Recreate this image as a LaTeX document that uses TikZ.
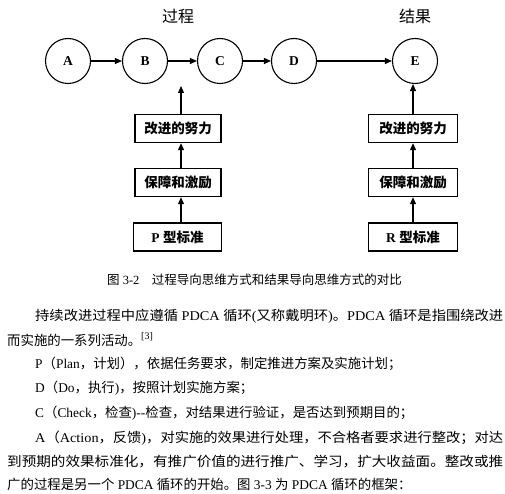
\documentclass[tikz,border=0pt]{standalone}
\usepackage{fontspec}
\usepackage{graphicx}
\setmainfont{Liberation Serif}
\newfontfamily\cjk{Noto Sans CJK SC}
\usetikzlibrary{arrows.meta}
\newcommand\zh[1]{{\cjk #1}}
\newcommand\fitline[2]{\resizebox{#1pt}{\height}{#2}}
\begin{document}
\begin{tikzpicture}[x=1pt,y=-1pt,
  circ/.style={draw,circle,minimum size=45pt,inner sep=0pt,line width=1.1pt,font=\bfseries\fontsize{13.5}{13.5}\selectfont},
  box/.style={draw,rectangle,minimum height=28pt,inner sep=0pt,line width=1.4pt,font=\bfseries\fontsize{13.5}{13.5}\selectfont},
  arr/.style={-{Triangle[length=7pt,width=6pt]},line width=1.1pt},
  head/.style={inner sep=0pt,font=\cjk\fontsize{16}{16}\selectfont},
  body/.style={anchor=base west,inner sep=0pt,font=\fontsize{13.4}{13.4}\selectfont},
]
\useasboundingbox (0,0) rectangle (505,494);
% headers
\node[head] (hp) at (178,16) {过程};
\node[head] (hr) at (415,16) {结果};
% circles
\node[circ] (A) at (68,61) {A};
\node[circ] (B) at (145,61) {B};
\node[circ] (C) at (220,61) {C};
\node[circ] (D) at (294,61) {D};
\node[circ] (E) at (415,61) {E};
\draw[arr] (A) -- (B);
\draw[arr] (B) -- (C);
\draw[arr] (C) -- (D);
\draw[arr] (D) -- (E);
% left column
\coordinate (lax) at (181,0);
\coordinate (ltip) at (181,86);
\node[box,minimum width=86pt] (l1) at (178,128.5) {\zh{改进的努力}};
\node[box,minimum width=86pt] (l2) at (178,182.5) {\zh{保障和激励}};
\node[box,minimum width=88pt] (l3) at (177.5,237) {P \zh{型标准}};
\draw[arr] (l3.north -| lax) -- (l2.south -| lax);
\draw[arr] (l2.north -| lax) -- (l1.south -| lax);
\draw[arr] (l1.north -| lax) -- (ltip);
% right column
\coordinate (rax) at (413,0);
\node[box,minimum width=89pt] (r1) at (413,128.5) {\zh{改进的努力}};
\node[box,minimum width=89pt] (r2) at (413,182.5) {\zh{保障和激励}};
\node[box,minimum width=89pt] (r3) at (413,237) {R \zh{型标准}};
\draw[arr] (r3.north -| rax) -- (r2.south -| rax);
\draw[arr] (r2.north -| rax) -- (r1.south -| rax);
\draw[arr] (r1.north -| rax) -- (E.south -| rax);
% caption
\node[anchor=west,inner sep=0pt,font=\fontsize{12.5}{12.5}\selectfont] (cap) at (107,280)
  {\zh{图} 3-2\hspace{1em}\zh{过程导向思维方式和结果导向思维方式的对比}};
% body text
\node[body] (t1) at (35,320) {\fitline{468}{\zh{持续改进过程中应遵循} PDCA \zh{循环}(\zh{又称戴明环})\zh{。}PDCA \zh{循环是指围绕改进}}};
\node[body] (t2) at (7,345) {\zh{而实施的一系列活动。}\raisebox{5.5pt}{\fontsize{10}{10}\selectfont [3]}};
\node[body] (t3) at (35,368) {P\zh{（}Plan\zh{，计划），依据任务要求，制定推进方案及实施计划；}};
\node[body] (t4) at (35,392) {D\zh{（}Do\zh{，执行})\zh{，按照计划实施方案；}};
\node[body] (t5) at (35,417) {C\zh{（}Check\zh{，检查})-{}-\zh{检查，对结果进行验证，是否达到预期目的；}};
\node[body] (t6) at (35,442) {\fitline{468}{A\zh{（}Action\zh{，反馈})\zh{，对实施的效果进行处理，不合格者要求进行整改；对达}}};
\node[body] (t7) at (7,466) {\fitline{496}{\zh{到预期的效果标准化，有推广价值的进行推广、学习，扩大收益面。整改或推}}};
\node[body] (t8) at (7,489) {\zh{广的过程是另一个} PDCA \zh{循环的开始。图} 3-3 \zh{为} PDCA \zh{循环的框架：}};
\end{tikzpicture}
\end{document}
